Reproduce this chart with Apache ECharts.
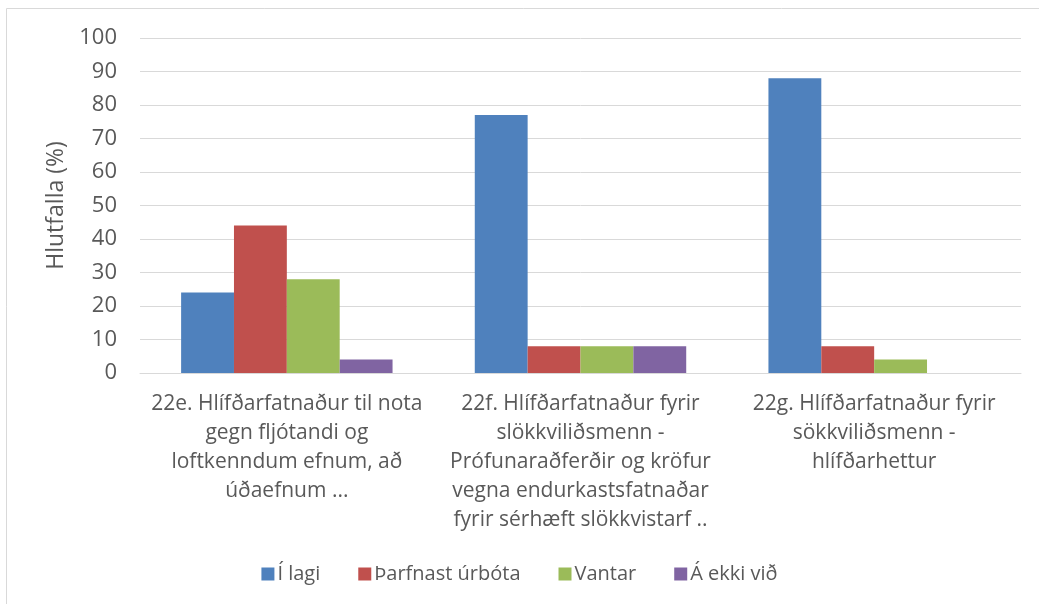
<!DOCTYPE html>
<html>
<head>
<meta charset="utf-8">
<script src="https://cdn.jsdelivr.net/npm/echarts@6/dist/echarts.min.js"></script>
<style>
  html, body { margin: 0; padding: 0; background: #fff; }
  #chart { width: 1039px; height: 604px; }
</style>
</head>
<body>
<div id="chart"></div>
<script>
// categories (line breaks as in the original chart)
const categories = [
  '22e. Hlífðarfatnaður til nota\ngegn fljótandi og\nloftkenndum efnum, að\núðaefnum ...',
  '22f. Hlífðarfatnaður fyrir\nslökkviliðsmenn -\nPrófunaraðferðir og kröfur\nvegna endurkastsfatnaðar\nfyrir sérhæft slökkvistarf ..',
  '22g. Hlífðarfatnaður fyrir\nsökkviliðsmenn -\nhlífðarhettur'
]
const seriesNames = ['Í lagi', 'Þarfnast úrbóta', 'Vantar', 'Á ekki við']
const iLagi = [24, 77, 88]
const tharfnast = [44, 8, 8]
const vantar = [28, 8, 4]
const ekkiVid = [4, 8, 0]
const colors = ['#4F81BD', '#C0504D', '#9BBB59', '#8064A2']

const font = '"Open Sans", sans-serif'
const chart = echarts.init(document.getElementById('chart'))

const values = [iLagi, tharfnast, vantar, ekkiVid]

chart.setOption({
  animation: false,
  textStyle: { fontFamily: font },
  // thin outer frame of the chart area
  graphic: [{
    type: 'rect',
    shape: { x: 6.5, y: 8.5, width: 1040, height: 600 },
    style: { fill: 'none', stroke: '#d9d9d9', lineWidth: 1 },
    silent: true
  }],
  grid: { left: 140, right: 18, top: 38, bottom: 231 },
  legend: {
    bottom: 15,
    left: 'center',
    itemWidth: 13,
    itemHeight: 13,
    itemGap: 38,
    icon: 'rect',
    textStyle: { fontFamily: font, fontSize: 20, color: '#595959', padding: [0, 0, 0, -2] },
    data: seriesNames
  },
  xAxis: {
    type: 'category',
    data: categories,
    axisLine: { lineStyle: { color: '#d9d9d9' } },
    axisTick: { show: false },
    axisLabel: {
      interval: 0,
      margin: 17,
      fontFamily: font,
      fontSize: 21,
      lineHeight: 29,
      color: '#595959',
      align: 'center'
    }
  },
  yAxis: {
    type: 'value',
    min: 0,
    max: 100,
    interval: 10,
    name: 'Hlutfalla (%)',
    nameLocation: 'middle',
    nameGap: 66,
    nameTextStyle: { fontFamily: font, fontSize: 23, color: '#595959' },
    axisLine: { show: false },
    axisTick: { show: false },
    axisLabel: { fontFamily: font, fontSize: 22, color: '#595959', margin: 23 },
    splitLine: { lineStyle: { color: '#d9d9d9', width: 1 } }
  },
  series: seriesNames.map((name, i) => ({
    name: name,
    type: 'bar',
    data: values[i],
    barGap: '0%',
    barCategoryGap: '28%',
    itemStyle: { color: colors[i] }
  }))
})
</script>
</body>
</html>
